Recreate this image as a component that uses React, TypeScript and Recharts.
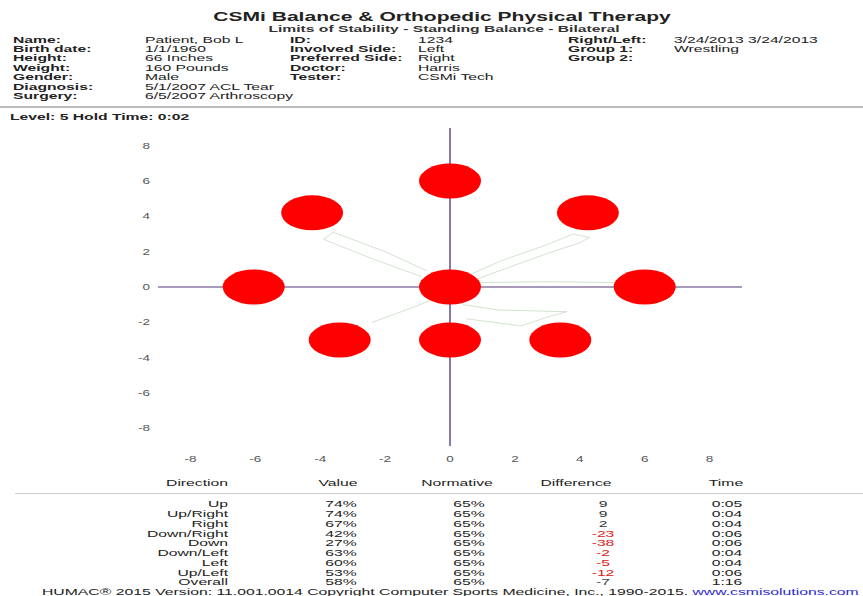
import React from "react";
import {
  ScatterChart,
  Scatter,
  XAxis,
  YAxis,
  ReferenceLine,
} from "recharts";

// target ellipses (limits of stability directions)
const targets = [
  { name: "Center", x: 0, y: 0 },
  { name: "Up", x: 0, y: 6 },
  { name: "Up/Right", x: 4.25, y: 4.2 },
  { name: "Right", x: 6, y: 0 },
  { name: "Down/Right", x: 3.4, y: -3 },
  { name: "Down", x: 0, y: -3 },
  { name: "Down/Left", x: -3.4, y: -3 },
  { name: "Left", x: -6.05, y: 0 },
  { name: "Up/Left", x: -4.25, y: 4.2 },
];

// faint cursor traces
const traceUpRight = [
  { x: 0.5, y: 0.6 },
  { x: 1.6, y: 1.5 },
  { x: 3.0, y: 2.4 },
  { x: 3.8, y: 3.0 },
  { x: 4.3, y: 2.8 },
  { x: 4.0, y: 2.5 },
  { x: 3.0, y: 1.9 },
  { x: 1.8, y: 1.1 },
  { x: 0.6, y: 0.3 },
];
const traceUpLeft = [
  { x: -0.7, y: 0.9 },
  { x: -2.0, y: 2.0 },
  { x: -3.6, y: 3.1 },
  { x: -3.9, y: 2.7 },
  { x: -2.4, y: 1.6 },
  { x: -0.9, y: 0.6 },
];
const traceRight = [
  { x: 0.6, y: 0.25 },
  { x: 3.0, y: 0.3 },
  { x: 5.4, y: 0.25 },
];
const traceDownRight = [
  { x: 0.4, y: -1.0 },
  { x: 1.5, y: -1.3 },
  { x: 3.6, y: -1.4 },
  { x: 3.0, y: -1.7 },
  { x: 2.2, y: -2.2 },
  { x: 0.5, y: -1.8 },
];
const traceDownLeft = [
  { x: -0.5, y: -0.7 },
  { x: -1.5, y: -1.4 },
  { x: -2.4, y: -2.0 },
];

const axisTicks = [-8, -6, -4, -2, 0, 2, 4, 6, 8];

// results table
const directions = ["Up", "Up/Right", "Right", "Down/Right", "Down", "Down/Left", "Left", "Up/Left", "Overall"];
const values = ["74%", "74%", "67%", "42%", "27%", "63%", "60%", "53%", "58%"];
const normatives = ["65%", "65%", "65%", "65%", "65%", "65%", "65%", "65%", "65%"];
const differences = [9, 9, 2, -23, -38, -2, -5, -12, -7];
const times = ["0:05", "0:04", "0:04", "0:06", "0:06", "0:04", "0:04", "0:06", "1:16"];

// patient info
const infoLabels1 = ["Name:", "Birth date:", "Height:", "Weight:", "Gender:", "Diagnosis:", "Surgery:"];
const infoValues1 = ["Patient, Bob L", "1/1/1960", "66 Inches", "160 Pounds", "Male", "5/1/2007 ACL Tear", "6/5/2007 Arthroscopy"];
const infoLabels2 = ["ID:", "Involved Side:", "Preferred Side:", "Doctor:", "Tester:"];
const infoValues2 = ["1234", "Left", "Right", "Harris", "CSMi Tech"];
const infoLabels3 = ["Right/Left:", "Group 1:", "Group 2:"];
const infoValues3 = ["3/24/2013 3/24/2013", "Wrestling", ""];

const FONT = "'Liberation Sans', Arial, sans-serif";
// the report is stretched horizontally
const SX = 1.65;

function T({
  x,
  y,
  children,
  align = "left",
  size = 9.5,
  bold = false,
  color = "#222",
  sx = SX,
}: {
  x: number;
  y: number;
  children: React.ReactNode;
  align?: "left" | "center" | "right";
  size?: number;
  bold?: boolean;
  color?: string;
  sx?: number;
}) {
  const tx = align === "center" ? "-50%" : align === "right" ? "-100%" : "0";
  return (
    <div
      style={{
        position: "absolute",
        left: x,
        top: y - size / 2,
        transform: `translateX(${tx}) scaleX(${sx})`,
        transformOrigin: align,
        fontSize: size,
        lineHeight: `${size}px`,
        fontWeight: bold ? "bold" : "normal",
        color,
        whiteSpace: "nowrap",
        fontFamily: FONT,
      }}
    >
      {children}
    </div>
  );
}

const Ellipse = (props: any) => (
  <ellipse cx={props.cx} cy={props.cy} rx={31} ry={17.5} fill="#ff0000" />
);

const NoDot = () => <g />;

const AxisTick = (props: any) => {
  const { x, y, payload, anchor } = props;
  return (
    <g transform={`translate(${x},${y})`}>
      <text
        transform="scale(1.5,1)"
        textAnchor={anchor}
        dy={anchor === "end" ? 3 : 8}
        fontSize={9}
        fill="#555"
        fontFamily={FONT}
      >
        {payload.value}
      </text>
    </g>
  );
};

const traceLine = { stroke: "#d3e3d0", strokeWidth: 1 };

export default function App() {
  return (
    <div
      style={{
        position: "absolute",
        left: 0,
        top: 0,
        width: 863,
        height: 596,
        background: "#fff",
        overflow: "hidden",
        fontFamily: FONT,
      }}
    >
      <div style={{ position: "absolute", left: 0, top: 0 }}>
        <ScatterChart
          width={863}
          height={596}
          margin={{ top: 128, right: 121, bottom: 130, left: 138 }}
        >
          <XAxis
            type="number"
            dataKey="x"
            domain={[-9, 9]}
            ticks={axisTicks}
            axisLine={false}
            tickLine={false}
            height={20}
            tick={<AxisTick anchor="middle" />}
          />
          <YAxis
            type="number"
            dataKey="y"
            domain={[-9, 9]}
            ticks={axisTicks}
            axisLine={false}
            tickLine={false}
            width={20}
            tick={<AxisTick anchor="end" />}
          />
          <ReferenceLine y={0} stroke="#8a78a6" strokeWidth={1.5} />
          <ReferenceLine x={0} stroke="#8a78a6" strokeWidth={2} />
          <Scatter data={traceUpRight} line={traceLine} shape={NoDot} isAnimationActive={false} />
          <Scatter data={traceUpLeft} line={traceLine} shape={NoDot} isAnimationActive={false} />
          <Scatter data={traceRight} line={traceLine} shape={NoDot} isAnimationActive={false} />
          <Scatter data={traceDownRight} line={traceLine} shape={NoDot} isAnimationActive={false} />
          <Scatter data={traceDownLeft} line={traceLine} shape={NoDot} isAnimationActive={false} />
          <Scatter data={targets} shape={Ellipse} isAnimationActive={false} />
        </ScatterChart>
      </div>

      {/* header */}
      <T x={442} y={17} align="center" size={13.5} bold sx={1.56}>
        CSMi Balance &amp; Orthopedic Physical Therapy
      </T>
      <T x={444} y={29} align="center" size={8.5} bold color="#333" sx={1.84}>
        Limits of Stability - Standing Balance - Bilateral
      </T>
      {infoLabels1.map((l, i) => (
        <T key={l} x={13} y={39.5 + i * 9.35} bold>
          {l}
        </T>
      ))}
      {infoValues1.map((v, i) => (
        <T key={i} x={145} y={39.5 + i * 9.35}>
          {v}
        </T>
      ))}
      {infoLabels2.map((l, i) => (
        <T key={l} x={290} y={39.5 + i * 9.35} bold>
          {l}
        </T>
      ))}
      {infoValues2.map((v, i) => (
        <T key={i} x={418} y={39.5 + i * 9.35}>
          {v}
        </T>
      ))}
      {infoLabels3.map((l, i) => (
        <T key={l} x={568} y={39.5 + i * 9.35} bold>
          {l}
        </T>
      ))}
      {infoValues3.map((v, i) => (
        <T key={i} x={674} y={39.5 + i * 9.35}>
          {v}
        </T>
      ))}
      <div
        style={{
          position: "absolute",
          left: 0,
          top: 106,
          width: 863,
          height: 2,
          background: "#bbb",
        }}
      />
      <T x={10} y={117} bold>
        Level: 5 Hold Time: 0:02
      </T>

      {/* results table */}
      <T x={197} y={483} align="center">Direction</T>
      <T x={338} y={483} align="center">Value</T>
      <T x={457} y={483} align="center">Normative</T>
      <T x={576} y={483} align="center">Difference</T>
      <T x={726} y={483} align="center">Time</T>
      <div
        style={{
          position: "absolute",
          left: 15,
          top: 493,
          width: 848,
          height: 1,
          background: "#ccc",
        }}
      />
      {directions.map((d, i) => (
        <T key={d} x={228} y={504 + i * 9.75} align="right">
          {d}
        </T>
      ))}
      {values.map((v, i) => (
        <T key={i} x={341} y={504 + i * 9.75} align="center">
          {v}
        </T>
      ))}
      {normatives.map((v, i) => (
        <T key={i} x={469} y={504 + i * 9.75} align="center">
          {v}
        </T>
      ))}
      {differences.map((v, i) => (
        <T
          key={i}
          x={603}
          y={504 + i * 9.75}
          align="center"
          color={i === differences.length - 1 ? "#445" : v < 0 ? "#e02020" : "#333"}
        >
          {v}
        </T>
      ))}
      {times.map((v, i) => (
        <T key={i} x={727} y={504 + i * 9.75} align="center">
          {v}
        </T>
      ))}

      {/* footer */}
      <T x={42} y={592} size={9} sx={1.75}>
        HUMAC® 2015 Version: 11.001.0014 Copyright Computer Sports Medicine, Inc., 1990-2015.{" "}
        <span style={{ color: "#2a2ad0", textDecoration: "underline" }}>
          www.csmisolutions.com
        </span>
      </T>
    </div>
  );
}
